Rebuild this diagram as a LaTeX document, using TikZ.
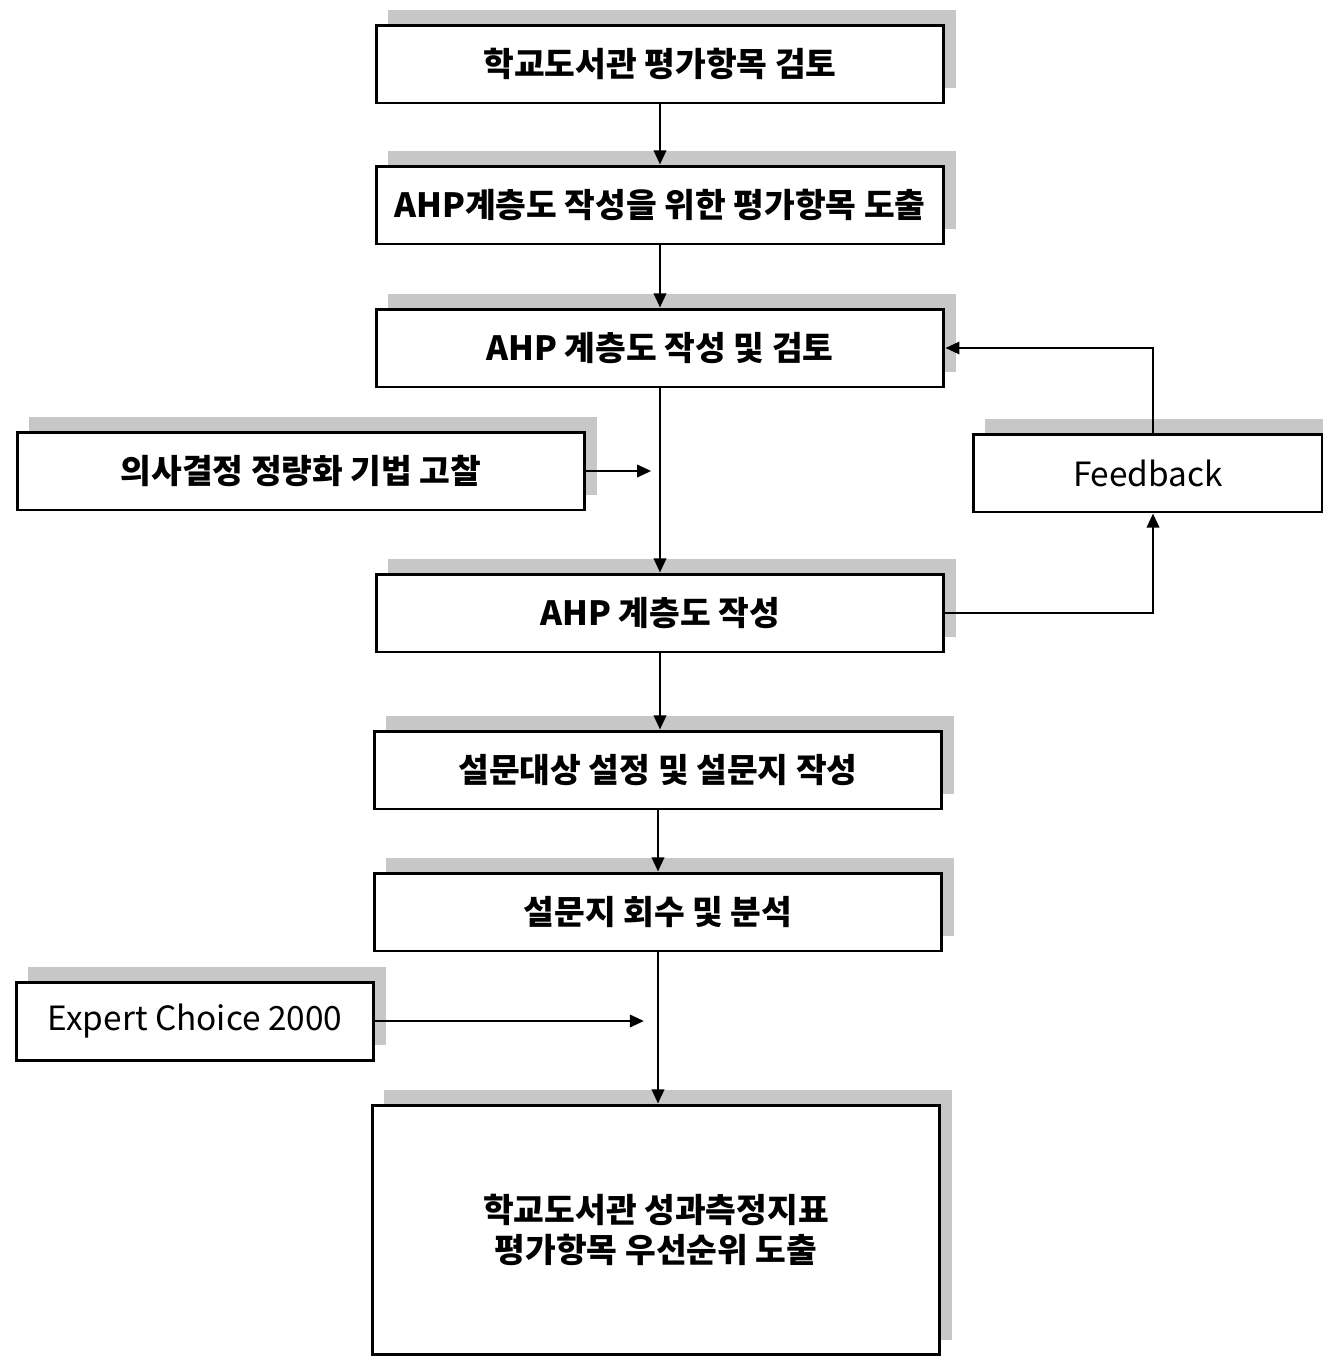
\documentclass[tikz,border=0pt]{standalone}
\usepackage{fontspec}
\setmainfont{Noto Sans CJK KR}
\usetikzlibrary{arrows.meta,shadows}

\tikzset{
  stepbox/.style={draw,line width=1.7pt,fill=white,inner sep=0pt,
    minimum width=11.36cm,minimum height=1.56cm,font=\fontsize{19}{25}\selectfont\bfseries,
    drop shadow={shadow xshift=0.24cm,shadow yshift=0.3cm,fill=black!22,opacity=1}},
  latin/.style={font=\fontsize{19}{25}\selectfont\mdseries},
  flow/.style={line width=1.4pt,-{Triangle[length=8pt,width=7pt]}}
}

\begin{document}
\begin{tikzpicture}[x=0.02cm,y=-0.02cm]
    \useasboundingbox (0,0) rectangle (1323,1357);
    % main column
    \node[stepbox] (review) at (660,64) {학교도서관 평가항목 검토};
    \node[stepbox] (items) at (660,205) {AHP계층도 작성을 위한 평가항목 도출};
    \node[stepbox] (check) at (660,348) {AHP 계층도 작성 및 검토};
    \node[stepbox] (build) at (660,613) {AHP 계층도 작성};
    \node[stepbox] (survey) at (658,770) {설문대상 설정 및 설문지 작성};
    \node[stepbox] (collect) at (658,912) {설문지 회수 및 분석};
    \node[stepbox,minimum height=5.0cm,align=center] (rank) at (656,1230)
      {학교도서관 성과측정지표\\[-2pt]평가항목 우선순위 도출};
    % side boxes
    \node[stepbox] (method) at (301,471) {의사결정 정량화 기법 고찰};
    \node[stepbox,latin,minimum width=7cm] (fb) at (1148,473) {Feedback};
    \node[stepbox,latin,minimum width=7.16cm] (ec) at (195,1021) {Expert Choice 2000};
    % connectors
    \draw[flow] (review) -- (items);
    \draw[flow] (items) -- (check);
    \draw[flow] (check) -- (build);
    \draw[flow] (build.south) -- (build.south |- survey.north);
    \draw[flow] (survey) -- (collect);
    \draw[flow] (collect.south) -- (collect.south |- rank.north);
    \draw[flow,shorten >=5] (method.east) -- (method.east -| check.south);
    \draw[flow,shorten >=8] (ec.east) -- (ec.east -| collect.south);
    \draw[flow] (build.east) -| ([xshift=0.1cm]fb.south);
    \draw[flow] ([xshift=0.1cm]fb.north) |- (check.east);
\end{tikzpicture}
\end{document}
